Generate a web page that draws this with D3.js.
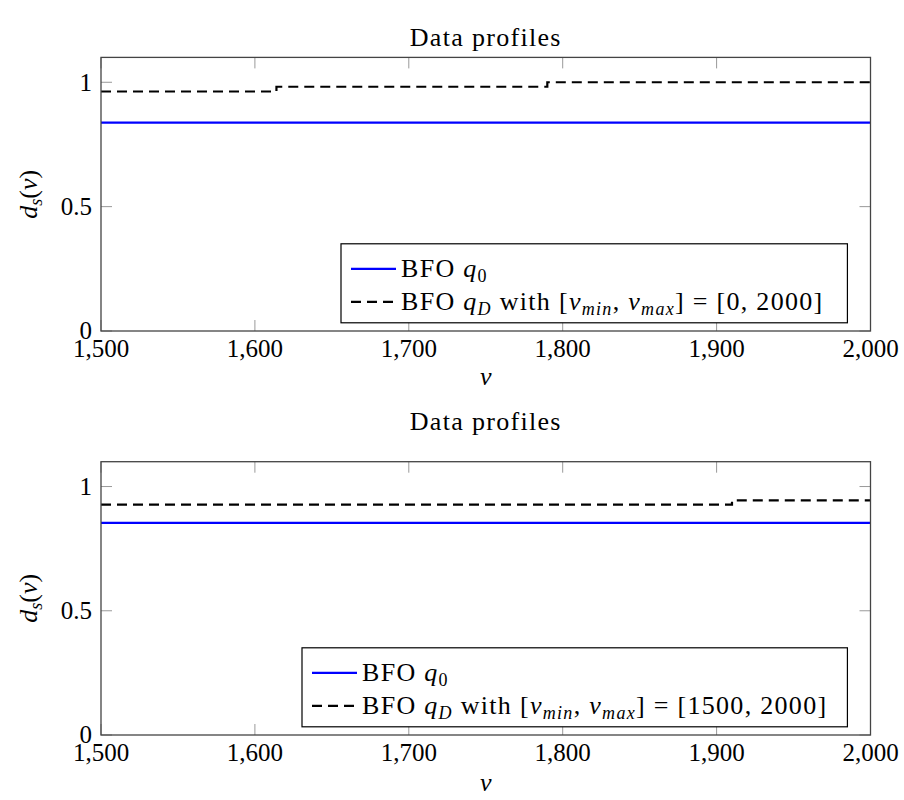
<!DOCTYPE html>
<html>
<head>
<meta charset="utf-8">
<script src="https://cdn.jsdelivr.net/npm/d3@7"></script>
<style>
  body { margin: 0; background: #fff; }
  svg text { font-family: "Liberation Serif", "DejaVu Serif", serif; fill: #000; }
</style>
</head>
<body>
<svg id="svg-1" width="904" height="800"></svg>
<script>
const BLUE = "#0000ff";
const FRAME = "#444";
const TICK = "#999";

// shared axes
const nuDomain = [1500, 2000];
const dsDomain = [0, 1.1];
const xTicks = [1500, 1600, 1700, 1800, 1900, 2000];
const yTicks = [0, 0.5, 1];

// top panel
const topQ0Nu = [1500, 2000];
const topQ0Ds = [0.838, 0.838];
const topQdNu = [1500, 1614, 1790, 2000];
const topQdDs = [0.963, 0.982, 1.0, 1.0];
const topRange = "0, 2000";

// bottom panel
const botQ0Nu = [1500, 2000];
const botQ0Ds = [0.854, 0.854];
const botQdNu = [1500, 1910, 2000];
const botQdDs = [0.927, 0.944, 0.944];
const botRange = "1500, 2000";

var svg = d3.select("#svg-1");
var left = 101, right = 870.5;
var LS = 1.3; // CM is wider than Times, widen words a bit

var x = d3.scaleLinear().domain(nuDomain).range([left, right]);
var fmt = d3.format(",");

function zip(a, b) {
  return a.map(function(v, i) { return [v, b[i]]; });
}

function buildPanel(p) {
  var top = p.top, bottom = p.bottom;
  var y = d3.scaleLinear().domain(dsDomain).range([bottom, top]);
  var g = svg.append("g");

  // title
  g.append("text")
    .attr("x", (left + right) / 2)
    .attr("y", p.titleY)
    .attr("text-anchor", "middle")
    .attr("font-size", 26)
    .attr("letter-spacing", LS)
    .text("Data profiles");

  // ticks (inside, all four sides)
  var tk = g.append("g").attr("stroke", TICK).attr("stroke-width", 1);
  xTicks.forEach(function(t) {
    tk.append("line").attr("x1", x(t)).attr("x2", x(t)).attr("y1", bottom).attr("y2", bottom - 11);
    tk.append("line").attr("x1", x(t)).attr("x2", x(t)).attr("y1", top).attr("y2", top + 11);
  });
  yTicks.forEach(function(t) {
    tk.append("line").attr("x1", left).attr("x2", left + 11).attr("y1", y(t)).attr("y2", y(t));
    tk.append("line").attr("x1", right).attr("x2", right - 11).attr("y1", y(t)).attr("y2", y(t));
  });

  // tick labels
  g.append("g").selectAll("text").data(xTicks).enter().append("text")
    .attr("x", function(d) { return x(d); })
    .attr("y", bottom + 26)
    .attr("text-anchor", "middle")
    .attr("font-size", 25)
    .text(function(d) { return fmt(d); });
  g.append("g").selectAll("text").data(yTicks).enter().append("text")
    .attr("x", left - 9)
    .attr("y", function(d) { return y(d); })
    .attr("dy", "0.33em")
    .attr("text-anchor", "end")
    .attr("font-size", 25)
    .text(function(d) { return d; });

  // axis labels
  g.append("text")
    .attr("x", (left + right) / 2)
    .attr("y", p.xLabelY)
    .attr("text-anchor", "middle")
    .attr("font-size", 26)
    .attr("font-style", "italic")
    .text("ν");
  var yl = g.append("text")
    .attr("transform", "translate(37," + (top + bottom) / 2 + ") rotate(-90)")
    .attr("text-anchor", "middle")
    .attr("font-size", 26);
  yl.append("tspan").attr("font-style", "italic").text("d");
  yl.append("tspan").attr("font-style", "italic").attr("font-size", 18).attr("dy", 5).text("s");
  yl.append("tspan").attr("dy", -5).text("(");
  yl.append("tspan").attr("font-style", "italic").text("ν");
  yl.append("tspan").text(")");

  // lines
  var line = d3.line()
    .x(function(d) { return x(d[0]); })
    .y(function(d) { return y(d[1]); })
    .curve(d3.curveStepAfter);

  g.append("path")
    .datum(p.q0)
    .attr("fill", "none")
    .attr("stroke", BLUE)
    .attr("stroke-width", 2.2)
    .attr("d", line);
  g.append("path")
    .datum(p.qd)
    .attr("fill", "none")
    .attr("stroke", "#000")
    .attr("stroke-width", 2.2)
    .attr("stroke-dasharray", "10,6")
    .attr("d", line);

  // frame
  g.append("rect")
    .attr("x", left).attr("y", top)
    .attr("width", right - left).attr("height", bottom - top)
    .attr("fill", "none")
    .attr("stroke", FRAME)
    .attr("stroke-width", 1.3);

  // legend, south east
  var legendLeft = p.legendLeft;
  var lr = right - 0.03 * (right - left);
  var lb = bottom - 0.03 * (bottom - top);
  var lt = lb - 79;
  var lg = g.append("g");
  lg.append("rect")
    .attr("x", legendLeft).attr("y", lt)
    .attr("width", lr - legendLeft).attr("height", lb - lt)
    .attr("fill", "#fff")
    .attr("stroke", "#000")
    .attr("stroke-width", 1.2);

  var r1 = lt + 25, r2 = lt + 58;
  lg.append("line")
    .attr("x1", legendLeft + 10).attr("x2", legendLeft + 55)
    .attr("y1", r1).attr("y2", r1)
    .attr("stroke", BLUE).attr("stroke-width", 2.2);
  lg.append("line")
    .attr("x1", legendLeft + 10).attr("x2", legendLeft + 55)
    .attr("y1", r2).attr("y2", r2)
    .attr("stroke", "#000").attr("stroke-width", 2.2)
    .attr("stroke-dasharray", "10,6");

  var t1 = lg.append("text").attr("x", legendLeft + 60).attr("y", r1 + 8)
    .attr("font-size", 26).attr("letter-spacing", LS);
  t1.append("tspan").text("BFO ");
  t1.append("tspan").attr("font-style", "italic").text("q");
  t1.append("tspan").attr("font-size", 18).attr("dy", 5).text("0");

  var t2 = lg.append("text").attr("x", legendLeft + 60).attr("y", r2 + 8)
    .attr("font-size", 26).attr("letter-spacing", LS);
  t2.append("tspan").text("BFO ");
  t2.append("tspan").attr("font-style", "italic").text("q");
  t2.append("tspan").attr("font-style", "italic").attr("font-size", 18).attr("dy", 5).text("D");
  t2.append("tspan").attr("dy", -5).text(" with [");
  t2.append("tspan").attr("font-style", "italic").text("ν");
  t2.append("tspan").attr("font-style", "italic").attr("font-size", 18).attr("dy", 5).text("min");
  t2.append("tspan").attr("dy", -5).text(", ");
  t2.append("tspan").attr("font-style", "italic").text("ν");
  t2.append("tspan").attr("font-style", "italic").attr("font-size", 18).attr("dy", 5).text("max");
  t2.append("tspan").attr("dy", -5).text("] = [" + p.range + "]");
}

buildPanel({
  top: 57.4, bottom: 331, titleY: 46, xLabelY: 385,
  q0: zip(topQ0Nu, topQ0Ds), qd: zip(topQdNu, topQdDs),
  range: topRange, legendLeft: 341
});
buildPanel({
  top: 461.7, bottom: 735, titleY: 430, xLabelY: 791,
  q0: zip(botQ0Nu, botQ0Ds), qd: zip(botQdNu, botQdDs),
  range: botRange, legendLeft: 302
});
</script>
</body>
</html>
